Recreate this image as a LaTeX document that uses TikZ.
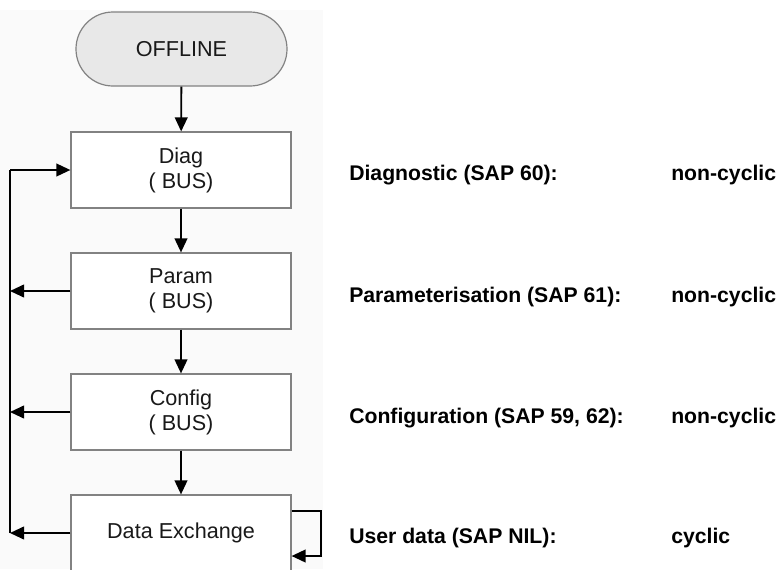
\documentclass[tikz,border=0pt]{standalone}
\usepackage{fontspec}
\setmainfont{Liberation Sans}
\usetikzlibrary{arrows.meta}
\definecolor{panel}{RGB}{250,250,250}
\definecolor{boxline}{RGB}{130,130,130}
\definecolor{termfill}{RGB}{232,232,232}
\definecolor{txt}{RGB}{25,25,25}
\begin{document}
\begin{tikzpicture}[x=0.75pt,y=-0.75pt,
  every node/.style={font=\fontsize{16.2}{18.75}\selectfont, text=txt},
  stepbox/.style={draw=boxline, line width=0.9pt, fill=white, minimum width=165pt, minimum height=57pt, inner sep=0pt, align=center},
  termbox/.style={draw=boxline, line width=0.9pt, fill=termfill, rounded corners=27.7pt, minimum width=158.25pt, minimum height=55.5pt, inner sep=0pt},
  lbl/.style={anchor=base west, inner sep=0pt, font=\fontsize{15.9}{18.75}\selectfont\bfseries, text=black},
  arr/.style={draw=black, line width=1.4pt, -{Triangle[length=10.5pt,width=9.5pt]}}
]
\useasboundingbox (0,0) rectangle (779,569);
\fill[white] (0,0) rectangle (779,569);
\fill[panel] (0,10) rectangle (323,569);

\node[termbox] (offline) at (181.5,49) {OFFLINE};
\node[stepbox] (diag) at (181,170) {Diag\\( BUS)};
\node[stepbox] (param) at (181,291) {Param\\( BUS)};
\node[stepbox] (config) at (181,412) {Config\\( BUS)};
\node[stepbox] (dex) at (181,533) {Data Exchange};

\coordinate (fb) at (10,170);
\coordinate (lp1) at (321,511);
\coordinate (lp2) at (321,556);

\draw[arr] (offline) -- (diag);
\draw[arr] (diag) -- (param);
\draw[arr] (param) -- (config);
\draw[arr] (config) -- (dex);

\draw[line width=1.4pt] (dex.west -| fb) -- (fb);
\draw[arr] (fb) -- (diag.west);
\draw[arr] (param.west) -- (param.west -| fb);
\draw[arr] (config.west) -- (config.west -| fb);
\draw[arr] (dex.west) -- (dex.west -| fb);
\draw[arr] (dex.east |- lp1) -- (lp1) -- (lp2) -- (dex.east |- lp2);

\node[lbl] (l1) at (349,180) {Diagnostic (SAP 60):};
\node[lbl] (l2) at (349,302) {Parameterisation (SAP 61):};
\node[lbl] (l3) at (349,423) {Configuration (SAP 59, 62):};
\node[lbl] (l4) at (349,543) {User data (SAP NIL):};
\node[lbl] (v1) at (671,180) {non-cyclic};
\node[lbl] (v2) at (671,302) {non-cyclic};
\node[lbl] (v3) at (671,423) {non-cyclic};
\node[lbl] (v4) at (671,543) {cyclic};
\end{tikzpicture}
\end{document}
